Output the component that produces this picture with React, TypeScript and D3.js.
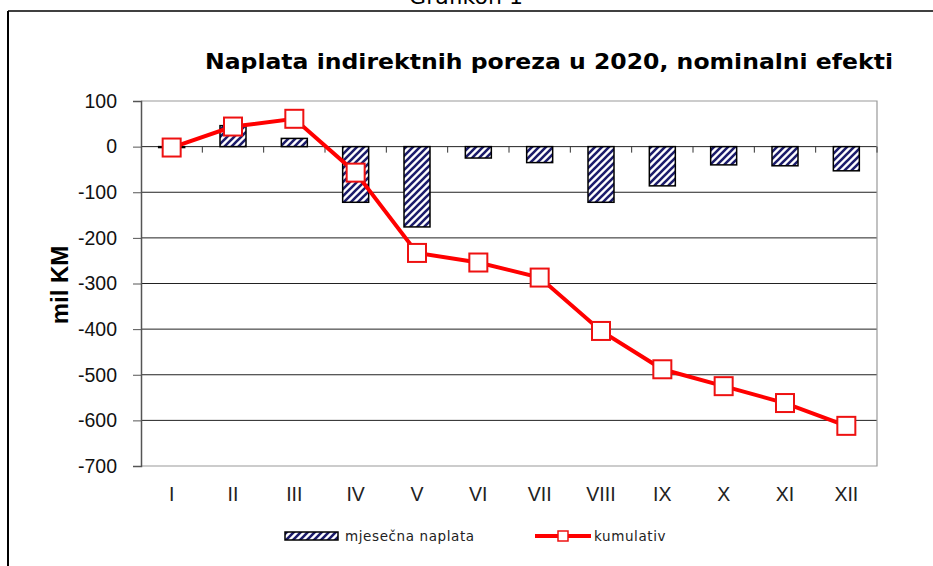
import React, { useRef, useEffect } from 'react';
import * as d3 from 'd3';

const months = ['I', 'II', 'III', 'IV', 'V', 'VI', 'VII', 'VIII', 'IX', 'X', 'XI', 'XII'];
const monthly = [-2, 46, 18, -122, -176, -25, -35, -122, -86, -40, -42, -53];
const cumulative = [-2, 44, 61, -57, -233, -254, -287, -404, -488, -525, -562, -612];
const yTicks = [100, 0, -100, -200, -300, -400, -500, -600, -700];

const App = () => {
  const ref = useRef<HTMLDivElement>(null);

  useEffect(() => {
    if (!ref.current) return;
    d3.select(ref.current).select('svg').remove();

    const width = 933;
    const height = 566;
    const left = 141, right = 877, top = 101, bottom = 466;

    const svg = d3.select(ref.current)
      .append('svg')
      .attr('width', width)
      .attr('height', height)
      .style('position', 'absolute')
      .style('left', '0px')
      .style('top', '0px')
      .style('background', '#fff');

    const defs = svg.append('defs');
    const pat = defs.append('pattern')
      .attr('id', 'hatch')
      .attr('patternUnits', 'userSpaceOnUse')
      .attr('width', 7)
      .attr('height', 7);
    pat.append('rect').attr('width', 7).attr('height', 7).attr('fill', '#fff');
    pat.append('path')
      .attr('d', 'M-1,1 l2,-2 M0,7 l7,-7 M6,8 l2,-2')
      .attr('stroke', '#1c1c6b')
      .attr('stroke-width', 2.6);

    // outer frame
    svg.append('line').attr('x1', 8).attr('x2', width).attr('y1', 11).attr('y2', 11)
      .attr('stroke', '#000').attr('stroke-width', 1.5);
    svg.append('line').attr('x1', 8).attr('x2', 8).attr('y1', 11).attr('y2', height)
      .attr('stroke', '#000').attr('stroke-width', 2);

    // page caption above the frame, clipped by the top edge as in the source
    svg.append('text')
      .attr('x', 466).attr('y', 4)
      .attr('text-anchor', 'middle')
      .attr('font-family', 'DejaVu Sans')
      .attr('font-size', 22)
      .text('Grafikon 1');

    svg.append('text')
      .attr('x', 205).attr('y', 69)
      .attr('font-family', 'DejaVu Sans')
      .attr('font-weight', 'bold')
      .attr('font-size', 22)
      .attr('textLength', 688)
      .attr('lengthAdjust', 'spacingAndGlyphs')
      .text('Naplata indirektnih poreza u 2020, nominalni efekti');

    const x = d3.scaleBand().domain(months).range([left, right]);
    const y = d3.scaleLinear().domain([-700, 100]).range([bottom, top]);

    // gridlines
    svg.append('g').selectAll('line')
      .data(yTicks.filter(d => d !== 100 && d !== -700))
      .enter().append('line')
      .attr('x1', left).attr('x2', right)
      .attr('y1', d => y(d)).attr('y2', d => y(d))
      .attr('stroke', '#222').attr('stroke-width', 1);

    // plot border top/right/bottom
    svg.append('path')
      .attr('d', `M${left},${top}H${right}V${bottom}H${left}`)
      .attr('fill', 'none').attr('stroke', '#999').attr('stroke-width', 1.2);

    // y axis
    const yAxis = svg.append('g')
      .attr('transform', `translate(${left},0)`)
      .call(d3.axisLeft(y).tickValues(yTicks).tickSize(8).tickPadding(16).tickFormat(d => String(d)));
    yAxis.select('.domain').attr('stroke', '#555').attr('stroke-width', 1.5);
    yAxis.selectAll('.tick line').attr('stroke', '#555');
    yAxis.selectAll('text')
      .attr('font-family', 'Liberation Sans, Arial')
      .attr('font-size', 19.5)
      .attr('fill', '#111');

    // zero line ticks
    svg.append('g').selectAll('line')
      .data(months.slice(1).concat(['end']))
      .enter().append('line')
      .attr('x1', d => d === 'end' ? right : (x(d) as number))
      .attr('x2', d => d === 'end' ? right : (x(d) as number))
      .attr('y1', y(0)).attr('y2', y(0) + 6)
      .attr('stroke', '#333');

    // x labels
    svg.append('g').selectAll('text')
      .data(months)
      .enter().append('text')
      .attr('x', d => (x(d) as number) + x.bandwidth() / 2)
      .attr('y', 501)
      .attr('text-anchor', 'middle')
      .attr('font-family', 'Liberation Sans, Arial')
      .attr('font-size', 19.5)
      .attr('fill', '#222')
      .text(d => d);

    svg.append('text')
      .attr('transform', 'translate(68,285) rotate(-90)')
      .attr('text-anchor', 'middle')
      .attr('font-family', 'Liberation Sans, Arial')
      .attr('font-weight', 'bold')
      .attr('font-size', 24)
      .text('mil KM');

    // bars
    const bw = 26;
    svg.append('g').selectAll('rect')
      .data(monthly)
      .enter().append('rect')
      .attr('x', (d, i) => (x(months[i]) as number) + x.bandwidth() / 2 - bw / 2)
      .attr('y', d => y(Math.max(0, d)))
      .attr('width', bw)
      .attr('height', d => Math.abs(y(d) - y(0)))
      .attr('fill', 'url(#hatch)')
      .attr('stroke', '#000')
      .attr('stroke-width', 1.5);

    // line
    const line = d3.line<number>()
      .x((d, i) => (x(months[i]) as number) + x.bandwidth() / 2)
      .y(d => y(d));
    svg.append('path')
      .datum(cumulative)
      .attr('d', line)
      .attr('fill', 'none')
      .attr('stroke', '#ff0000')
      .attr('stroke-width', 4);

    const ms = 18;
    svg.append('g').selectAll('rect')
      .data(cumulative)
      .enter().append('rect')
      .attr('x', (d, i) => (x(months[i]) as number) + x.bandwidth() / 2 - ms / 2)
      .attr('y', d => y(d) - ms / 2)
      .attr('width', ms)
      .attr('height', ms)
      .attr('fill', '#fff')
      .attr('stroke', '#ee1111')
      .attr('stroke-width', 2);

    // legend
    const lg = svg.append('g');
    lg.append('rect').attr('x', 285).attr('y', 532).attr('width', 53).attr('height', 8)
      .attr('fill', 'url(#hatch)').attr('stroke', '#000').attr('stroke-width', 1.5);
    lg.append('text').attr('x', 345).attr('y', 541)
      .attr('font-family', 'DejaVu Sans').attr('font-size', 13.5).attr('fill', '#222')
      .attr('letter-spacing', 0.6)
      .text('mjesečna naplata');
    lg.append('line').attr('x1', 535).attr('x2', 591).attr('y1', 536).attr('y2', 536)
      .attr('stroke', '#ff0000').attr('stroke-width', 4);
    lg.append('rect').attr('x', 558).attr('y', 531).attr('width', 10).attr('height', 10)
      .attr('fill', '#fff').attr('stroke', '#ee1111').attr('stroke-width', 1.5);
    lg.append('text').attr('x', 594).attr('y', 541)
      .attr('font-family', 'DejaVu Sans').attr('font-size', 13.5).attr('fill', '#222')
      .attr('letter-spacing', 0.6)
      .text('kumulativ');
  }, []);

  return <div ref={ref}></div>;
};

export default App;
